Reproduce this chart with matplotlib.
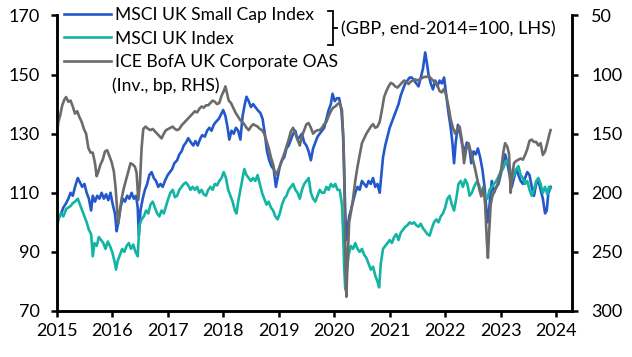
import matplotlib
matplotlib.use('Agg')
import matplotlib.pyplot as plt
from matplotlib.lines import Line2D

plt.rcParams['font.family'] = ['Lato', 'DejaVu Sans']

# ── Data (decimal years) ───────────────────────────────────────────────────
small_t = [2015.00, 2015.04, 2015.08, 2015.12, 2015.17, 2015.21, 2015.25, 2015.29, 2015.33, 2015.38,
           2015.42, 2015.46, 2015.50, 2015.54, 2015.58, 2015.62, 2015.65, 2015.69, 2015.73, 2015.77,
           2015.81, 2015.85, 2015.89, 2015.93, 2015.97, 2016.01, 2016.05, 2016.08, 2016.11, 2016.15,
           2016.19, 2016.23, 2016.27, 2016.31, 2016.35, 2016.39, 2016.43, 2016.46, 2016.48, 2016.51,
           2016.55, 2016.59, 2016.63, 2016.67, 2016.71, 2016.75, 2016.79, 2016.83, 2016.87, 2016.91,
           2016.95, 2017.00, 2017.04, 2017.08, 2017.12, 2017.17, 2017.21, 2017.25, 2017.29, 2017.33,
           2017.37, 2017.42, 2017.46, 2017.50, 2017.54, 2017.58, 2017.62, 2017.67, 2017.71, 2017.75,
           2017.79, 2017.83, 2017.87, 2017.92, 2017.96, 2018.00, 2018.04, 2018.08, 2018.11, 2018.15,
           2018.19, 2018.23, 2018.27, 2018.31, 2018.35, 2018.39, 2018.42, 2018.46, 2018.50, 2018.54,
           2018.58, 2018.62, 2018.67, 2018.71, 2018.75, 2018.79, 2018.83, 2018.87, 2018.91, 2018.95,
           2018.98, 2019.02, 2019.06, 2019.10, 2019.14, 2019.18, 2019.22, 2019.26, 2019.30, 2019.34,
           2019.38, 2019.42, 2019.46, 2019.50, 2019.54, 2019.58, 2019.62, 2019.66, 2019.70, 2019.74,
           2019.78, 2019.82, 2019.86, 2019.90, 2019.94, 2019.97, 2020.01, 2020.05, 2020.09, 2020.13,
           2020.16, 2020.18, 2020.20, 2020.22, 2020.24, 2020.27, 2020.30, 2020.34, 2020.38, 2020.42,
           2020.46, 2020.50, 2020.54, 2020.58, 2020.62, 2020.66, 2020.70, 2020.74, 2020.78, 2020.82,
           2020.85, 2020.88, 2020.92, 2020.96, 2021.00, 2021.04, 2021.08, 2021.12, 2021.16, 2021.20,
           2021.24, 2021.28, 2021.32, 2021.36, 2021.40, 2021.44, 2021.48, 2021.52, 2021.56, 2021.60,
           2021.64, 2021.67, 2021.70, 2021.74, 2021.78, 2021.82, 2021.86, 2021.90, 2021.94, 2021.98,
           2022.02, 2022.06, 2022.10, 2022.13, 2022.16, 2022.19, 2022.23, 2022.27, 2022.31, 2022.35,
           2022.39, 2022.43, 2022.47, 2022.51, 2022.55, 2022.59, 2022.63, 2022.67, 2022.71, 2022.74,
           2022.77, 2022.80, 2022.84, 2022.88, 2022.92, 2022.96, 2023.00, 2023.04, 2023.08, 2023.12,
           2023.16, 2023.20, 2023.24, 2023.28, 2023.32, 2023.36, 2023.40, 2023.44, 2023.48, 2023.52,
           2023.56, 2023.60, 2023.64, 2023.68, 2023.72, 2023.76, 2023.80, 2023.83, 2023.86, 2023.90]
small_v = [100, 101.5, 103, 105, 106.5, 108, 110, 109, 112, 115,
           113.5, 112, 113, 110, 108, 104, 109, 107, 109, 108,
           110, 108, 109.5, 107.5, 110, 106, 103, 97, 100, 105,
           108, 107, 109, 108, 110, 108, 109, 105, 95.5, 104,
           108, 111, 113, 116, 117, 115, 114, 112, 113, 112,
           114, 116, 117, 118, 120, 121, 123, 124, 126, 127,
           128.5, 127, 126, 127.5, 126, 128, 129.5, 129, 131, 132,
           131, 133, 134, 135, 136.5, 138, 136, 132, 128, 131,
           130, 132, 131, 128, 136, 140, 142.5, 141, 139, 140,
           139, 138, 137, 135, 130, 124, 121, 119, 118, 112,
           115, 119, 121, 122, 125, 126, 128, 130, 131, 128,
           129, 130, 127, 126, 124, 121, 125, 127, 129, 130,
           131, 132, 135, 138, 140, 143.5, 141, 142, 142, 138,
           130, 118, 103, 94, 98, 102, 104, 107, 110, 112,
           111, 114, 113, 112, 114, 113, 115, 112, 113, 110,
           116, 122, 126, 129, 132, 134, 136, 138, 140, 143,
           145, 147, 148, 149, 149, 148, 147, 146, 149, 152,
           157.5, 154, 150, 147, 145, 148, 146, 148, 147, 149,
           143, 137, 132, 127, 120, 127, 133, 130, 126, 124,
           127, 126, 120, 124, 123, 125, 122, 118, 112, 105,
           100, 106, 114, 110, 112, 113, 116, 120, 123, 120,
           116, 112, 115, 118, 116, 114, 113, 115, 117, 116,
           112, 109, 113, 114, 111, 108, 103, 104, 110, 112]

msci_t = [2015.00, 2015.04, 2015.08, 2015.12, 2015.17, 2015.21, 2015.25, 2015.29, 2015.33, 2015.38,
          2015.42, 2015.46, 2015.50, 2015.54, 2015.58, 2015.62, 2015.65, 2015.68, 2015.72, 2015.76,
          2015.80, 2015.84, 2015.88, 2015.92, 2015.96, 2016.00, 2016.04, 2016.07, 2016.10, 2016.14,
          2016.18, 2016.22, 2016.26, 2016.30, 2016.34, 2016.38, 2016.42, 2016.46, 2016.49, 2016.53,
          2016.57, 2016.61, 2016.65, 2016.69, 2016.73, 2016.77, 2016.81, 2016.85, 2016.89, 2016.93,
          2016.97, 2017.01, 2017.05, 2017.09, 2017.13, 2017.17, 2017.21, 2017.25, 2017.29, 2017.33,
          2017.37, 2017.41, 2017.45, 2017.49, 2017.53, 2017.57, 2017.61, 2017.65, 2017.69, 2017.73,
          2017.77, 2017.81, 2017.85, 2017.89, 2017.93, 2017.97, 2018.01, 2018.05, 2018.09, 2018.13,
          2018.17, 2018.21, 2018.24, 2018.27, 2018.31, 2018.35, 2018.38, 2018.42, 2018.46, 2018.50,
          2018.54, 2018.58, 2018.62, 2018.66, 2018.70, 2018.74, 2018.78, 2018.82, 2018.86, 2018.90,
          2018.94, 2018.98, 2019.02, 2019.06, 2019.10, 2019.14, 2019.18, 2019.22, 2019.26, 2019.30,
          2019.34, 2019.38, 2019.42, 2019.46, 2019.50, 2019.54, 2019.58, 2019.62, 2019.66, 2019.70,
          2019.74, 2019.78, 2019.82, 2019.86, 2019.90, 2019.94, 2019.98, 2020.02, 2020.06, 2020.10,
          2020.14, 2020.16, 2020.18, 2020.20, 2020.23, 2020.26, 2020.30, 2020.34, 2020.38, 2020.42,
          2020.46, 2020.50, 2020.54, 2020.58, 2020.62, 2020.66, 2020.70, 2020.74, 2020.78, 2020.81,
          2020.84, 2020.88, 2020.92, 2020.96, 2021.00, 2021.04, 2021.08, 2021.12, 2021.16, 2021.20,
          2021.24, 2021.28, 2021.32, 2021.36, 2021.40, 2021.44, 2021.48, 2021.52, 2021.56, 2021.60,
          2021.64, 2021.68, 2021.72, 2021.76, 2021.80, 2021.84, 2021.88, 2021.92, 2021.96, 2022.00,
          2022.04, 2022.08, 2022.12, 2022.16, 2022.20, 2022.24, 2022.28, 2022.32, 2022.36, 2022.40,
          2022.44, 2022.48, 2022.52, 2022.56, 2022.60, 2022.64, 2022.68, 2022.72, 2022.76, 2022.80,
          2022.84, 2022.88, 2022.92, 2022.96, 2023.00, 2023.04, 2023.08, 2023.12, 2023.16, 2023.20,
          2023.24, 2023.28, 2023.32, 2023.36, 2023.40, 2023.44, 2023.48, 2023.52, 2023.56, 2023.60,
          2023.64, 2023.68, 2023.72, 2023.76, 2023.80, 2023.84, 2023.87, 2023.90]
msci_v = [97.5, 102, 103, 102, 104.5, 105, 105.5, 106.5, 107, 108,
          106, 104, 102, 100, 97.5, 96, 88.5, 93, 92, 95,
          94, 93, 91, 93.5, 92, 90, 87, 84, 87, 89,
          91, 90, 92, 93, 91, 92.5, 90, 88.5, 99, 101,
          102, 104, 103, 106, 107, 105, 103, 102, 104, 103,
          105.5, 108, 110, 111, 108.5, 109, 111, 112, 113, 113.5,
          112.5, 111, 112, 111, 112, 110, 111, 109.5, 109, 111,
          112, 111, 113, 112.5, 114, 115, 117, 115, 111, 109,
          107, 104, 103, 107, 111, 115, 118, 116, 115, 114,
          115, 114, 116, 113, 110, 108, 106, 107, 105, 104,
          102, 101, 103, 106, 108, 109, 111, 112, 113, 111,
          110, 108, 111, 113, 114, 115, 110, 108, 107, 109,
          111, 110, 110, 112, 111, 113, 112, 113, 111, 111,
          106, 97, 85, 77.3, 84, 89, 92, 91, 93, 91,
          90, 91, 89, 88, 86, 84, 85, 82, 80, 78,
          86, 91, 92, 93, 94, 93, 95, 96, 94, 96.5,
          97.5, 98.5, 99, 100, 99.5, 100, 99, 98.5, 99.5, 98,
          97, 96, 95.5, 98, 100, 101, 100, 102, 103, 105,
          108, 109, 106, 104, 108, 113, 114, 112, 114.5, 113,
          109, 110, 112, 113.5, 113, 111, 110, 108.5, 108, 111,
          112, 113, 114, 115.5, 117, 118, 120, 121, 119, 114.5,
          116, 118, 119, 116, 115, 113, 114, 111, 109, 111,
          114, 115, 113, 110, 112, 109.5, 112, 111.5]

oas_t = [2015.00, 2015.03, 2015.06, 2015.10, 2015.14, 2015.17, 2015.21, 2015.25, 2015.29, 2015.33,
         2015.37, 2015.41, 2015.45, 2015.49, 2015.53, 2015.57, 2015.61, 2015.65, 2015.69, 2015.72,
         2015.75, 2015.79, 2015.83, 2015.87, 2015.91, 2015.95, 2015.99, 2016.03, 2016.06, 2016.09,
         2016.11, 2016.14, 2016.17, 2016.21, 2016.25, 2016.29, 2016.33, 2016.37, 2016.41, 2016.44,
         2016.47, 2016.50, 2016.53, 2016.56, 2016.60, 2016.65, 2016.69, 2016.73, 2016.77, 2016.81,
         2016.85, 2016.89, 2016.93, 2016.97, 2017.01, 2017.05, 2017.09, 2017.13, 2017.17, 2017.21,
         2017.25, 2017.29, 2017.33, 2017.37, 2017.41, 2017.45, 2017.49, 2017.53, 2017.57, 2017.61,
         2017.65, 2017.69, 2017.73, 2017.77, 2017.81, 2017.85, 2017.89, 2017.93, 2017.97, 2018.01,
         2018.04, 2018.07, 2018.10, 2018.14, 2018.18, 2018.22, 2018.26, 2018.30, 2018.34, 2018.38,
         2018.42, 2018.46, 2018.50, 2018.54, 2018.58, 2018.62, 2018.66, 2018.70, 2018.74, 2018.78,
         2018.82, 2018.86, 2018.90, 2018.94, 2018.98, 2019.02, 2019.06, 2019.10, 2019.14, 2019.18,
         2019.22, 2019.26, 2019.30, 2019.34, 2019.38, 2019.42, 2019.46, 2019.50, 2019.54, 2019.58,
         2019.62, 2019.66, 2019.70, 2019.74, 2019.78, 2019.82, 2019.86, 2019.90, 2019.94, 2019.98,
         2020.02, 2020.06, 2020.10, 2020.14, 2020.17, 2020.19, 2020.21, 2020.22, 2020.24, 2020.27,
         2020.30, 2020.34, 2020.38, 2020.42, 2020.46, 2020.50, 2020.54, 2020.58, 2020.62, 2020.66,
         2020.70, 2020.74, 2020.78, 2020.82, 2020.86, 2020.90, 2020.94, 2020.98, 2021.02, 2021.06,
         2021.10, 2021.14, 2021.18, 2021.22, 2021.26, 2021.30, 2021.34, 2021.38, 2021.42, 2021.46,
         2021.50, 2021.54, 2021.58, 2021.62, 2021.66, 2021.70, 2021.74, 2021.78, 2021.82, 2021.86,
         2021.90, 2021.94, 2021.98, 2022.02, 2022.06, 2022.10, 2022.14, 2022.18, 2022.22, 2022.26,
         2022.30, 2022.34, 2022.38, 2022.42, 2022.46, 2022.50, 2022.54, 2022.58, 2022.62, 2022.65,
         2022.69, 2022.72, 2022.75, 2022.77, 2022.79, 2022.82, 2022.85, 2022.89, 2022.93, 2022.97,
         2023.01, 2023.05, 2023.08, 2023.12, 2023.15, 2023.18, 2023.21, 2023.24, 2023.28, 2023.32,
         2023.36, 2023.40, 2023.44, 2023.48, 2023.52, 2023.56, 2023.60, 2023.64, 2023.68, 2023.72,
         2023.76, 2023.80, 2023.84, 2023.88, 2023.90]
oas_bp = [152, 140, 135, 126, 121, 119, 123, 122, 127, 133,
          131, 136, 140, 146, 150, 162, 166, 166, 175, 186,
          182, 176, 172, 165, 164, 169, 174, 182, 195, 215,
          226, 215, 205, 196, 189, 182, 175, 176, 178, 183,
          206, 192, 162, 146, 144, 146, 147, 146, 148, 150,
          152, 154, 150, 147, 146, 145, 144, 146, 147, 146,
          143, 141, 139, 137, 135, 133, 131, 132, 129, 127,
          128, 126, 126, 124, 122, 123, 125, 124, 118, 114,
          110, 116, 122, 124, 128, 132, 135, 138, 140, 142,
          145, 147, 144, 142, 143, 144, 146, 147, 150, 156,
          162, 170, 176, 185, 182, 178, 172, 167, 161, 155,
          148, 145, 150, 155, 160, 152, 147, 142, 141, 145,
          150, 148, 147, 147, 145, 142, 140, 135, 131, 128,
          127, 125, 124, 130, 160, 212, 275, 288, 260, 225,
          217, 205, 190, 178, 168, 158, 154, 150, 147, 144,
          142, 145, 144, 140, 130, 119, 114, 110, 107, 108,
          110, 111, 109, 107, 105, 106, 108, 106, 105, 104,
          105, 104, 103, 102, 102, 101, 103, 105, 107, 109,
          114, 115, 112, 118, 127, 138, 145, 150, 146, 144,
          155, 175, 163, 158, 165, 172, 180, 189, 198, 203,
          195, 210, 240, 255, 235, 210, 203, 198, 195, 188,
          180, 165, 158, 161, 167, 200, 185, 175, 173, 172,
          171, 172, 168, 163, 156, 155, 157, 157, 160, 158,
          168, 165, 158, 150, 147]

year_ticks = list(range(2015, 2025))
lhs_ticks = [70, 90, 110, 130, 150, 170]
rhs_ticks = [50, 100, 150, 200, 250, 300]

BLUE = '#2358cc'
TEAL = '#12b5a4'
GREY = '#6b6b6b'
FS = 13

fig = plt.figure(figsize=(6.32, 3.57), dpi=100)
ax = fig.add_axes([0.0897, 0.1289, 0.8149, 0.8277])
ax2 = ax.twinx()

l_small, = ax.plot(small_t, small_v, color=BLUE, linewidth=1.9)
l_msci, = ax.plot(msci_t, msci_v, color=TEAL, linewidth=1.9)
l_oas, = ax2.plot(oas_t, oas_bp, color=GREY, linewidth=1.9)

ax.set_xlim(2015.0, 2024.28)
ax.set_ylim(70, 170)
ax.set_yticks(lhs_ticks)
ax.set_xticks(year_ticks)
ax.set_xticklabels([str(y) for y in year_ticks])
ax2.set_ylim(300, 50)
ax2.set_yticks(rhs_ticks)

for a in (ax, ax2):
    a.spines['top'].set_visible(False)
    for s in ('left', 'right', 'bottom'):
        a.spines[s].set_linewidth(1.8)
        a.spines[s].set_color('black')
ax.tick_params(axis='y', direction='out', length=4, width=1.8, pad=8,
               labelsize=FS, colors='black')
ax.tick_params(axis='x', direction='out', length=4, width=1.8, pad=5,
               labelsize=FS, colors='black')
ax2.tick_params(axis='y', direction='out', length=4, width=1.8, pad=10,
                labelsize=FS, colors='black')

# legend: three series plus the RHS note as a handle-less fourth row
blank = Line2D([], [], color='none')
leg = ax.legend([l_small, l_msci, l_oas, blank],
                ['MSCI UK Small Cap Index', 'MSCI UK Index',
                 'ICE BofA UK Corporate OAS', '(Inv., bp, RHS)'],
                loc='upper left', bbox_to_anchor=(64 / 632, 1 - 7 / 357),
                bbox_transform=fig.transFigure, frameon=False,
                fontsize=12.6, handlelength=2.7, handletextpad=0.2,
                labelspacing=0.43, borderpad=0, borderaxespad=0)
leg.get_texts()[3].set_x(-3)

# square brace grouping the two LHS series
bx, by0, by1, bym = 333, 11, 45, 28
brace = [([bx - 5, bx, bx, bx - 5], [by0, by0, by1, by1]),
         ([bx, bx + 4], [bym, bym])]
for xs, ys in brace:
    fig.add_artist(Line2D([x / 632 for x in xs], [1 - y / 357 for y in ys],
                          transform=fig.transFigure, color='black',
                          linewidth=1.3, solid_joinstyle='miter'))
fig.text(341 / 632, 1 - 29 / 357, '(GBP, end-2014=100, LHS)', fontsize=FS,
         ha='left', va='center')

fig.savefig('out.png', dpi=100)
